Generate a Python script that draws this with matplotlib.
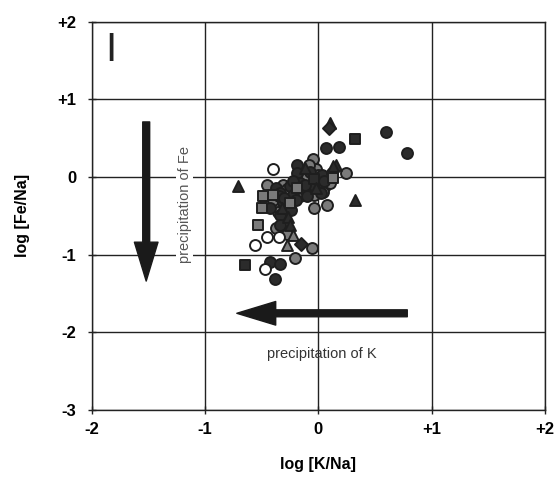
import matplotlib
matplotlib.use("Agg")
import matplotlib.pyplot as plt
from matplotlib.patches import FancyArrowPatch

plt.rcParams['font.family'] = ['Liberation Sans', 'DejaVu Sans']

# log [K/Na], log [Fe/Na] per sample group
dark_circ_x = [0.60, 0.78, 0.065, 0.18, -0.19, -0.43, -0.34, -0.38,
               -0.19, -0.07, 0.03, -0.16, 0.02, -0.13, -0.25, -0.37, -0.46,
               -0.34, -0.22, -0.10, 0.02, -0.43, -0.31, -0.34, -0.34,
               -0.22, -0.05, 0.05, -0.35, -0.20, -0.30, -0.24, -0.12, 0.12]
dark_circ_y = [0.58, 0.31, 0.37, 0.39, 0.16, -1.10, -1.12, -1.31,
               0.05, 0.07, 0.03, -0.08, -0.08, -0.16, -0.12, -0.14, -0.23,
               -0.21, -0.23, -0.24, -0.21, -0.40, -0.32, -0.49, -0.62,
               -0.05, -0.10, -0.05, -0.25, -0.30, -0.27, -0.42, -0.10, 0.05]

gray_circ_x = [-0.05, 0.24, 0.08, -0.04, -0.06, -0.21,
               -0.13, -0.02, 0.07, -0.10, 0.06, -0.07, -0.31, -0.43, -0.47,
               -0.28, -0.16, -0.04, 0.04, -0.37, -0.29, -0.31, -0.37, -0.28,
               -0.28, -0.10, 0.00, -0.40, -0.15, -0.45, -0.36, 0.10, -0.08]
gray_circ_y = [0.23, 0.05, -0.36, -0.40, -0.91, -1.04,
               0.03, 0.10, -0.01, -0.06, -0.12, -0.16, -0.10, -0.16, -0.30,
               -0.21, -0.25, -0.23, -0.19, -0.32, -0.45, -0.58, -0.66, -0.73,
               -0.15, 0.00, 0.02, -0.30, -0.18, -0.10, -0.45, -0.08, 0.15]

open_circ_x = [-0.40, -0.45, -0.56, -0.35, -0.47]
open_circ_y = [0.10, -0.77, -0.88, -0.77, -1.19]

dark_sq_x = [0.32, -0.65, -0.04]
dark_sq_y = [0.49, -1.13, -0.03]

gray_sq_x = [0.13, -0.49, -0.50, -0.53, -0.19, -0.40, -0.25]
gray_sq_y = [-0.01, -0.25, -0.40, -0.62, -0.14, -0.23, -0.34]

dark_tri_x = [0.10, 0.16, -0.12, -0.71, 0.32, 0.13, -0.02, -0.32, -0.27, -0.25]
dark_tri_y = [0.70, 0.16, 0.12, -0.11, -0.30, 0.14, -0.14, -0.40, -0.51, -0.62]

gray_tri_x = [-0.28, -0.22]
gray_tri_y = [-0.88, -0.75]

diam_x = [0.09, -0.15]
diam_y = [0.63, -0.86]

xticks = [-2, -1, 0, 1, 2]
xticklabels = ['-2', '-1', '0', '+1', '+2']
yticks = [-3, -2, -1, 0, 1, 2]
yticklabels = ['-3', '-2', '-1', '0', '+1', '+2']

fig = plt.figure(figsize=(5.6, 4.84), dpi=100)
ax = fig.add_axes([0.164, 0.153, 0.809, 0.802])

dark = '#2b2b2b'
gray = '#7a7a7a'
edge = '#1e1e1e'
ms = 62
kw = dict(s=ms, edgecolors=edge, linewidths=1.4, zorder=3)

ax.scatter(gray_circ_x, gray_circ_y, marker='o', facecolors=gray, **kw)
ax.scatter(dark_circ_x, dark_circ_y, marker='o', facecolors=dark, **kw)
ax.scatter(open_circ_x, open_circ_y, marker='o', facecolors='white', **kw)
ax.scatter(gray_sq_x, gray_sq_y, marker='s', facecolors=gray, **kw)
ax.scatter(dark_sq_x, dark_sq_y, marker='s', facecolors=dark, **kw)
ax.scatter(dark_tri_x, dark_tri_y, marker='^', facecolors=dark, **kw)
ax.scatter(gray_tri_x, gray_tri_y, marker='^', facecolors=gray, **kw)
ax.scatter(diam_x, diam_y, marker='D', s=44, facecolors=dark, edgecolors=edge,
           linewidths=1.4, zorder=3)

ax.set_xlim(-2, 2)
ax.set_ylim(-3, 2)
ax.set_xticks(xticks)
ax.set_xticklabels(xticklabels)
ax.set_yticks(yticks)
ax.set_yticklabels(yticklabels)
ax.tick_params(direction='inout', length=6, width=1, labelsize=12, color='#222')
ax.tick_params(axis='x', pad=6)
ax.tick_params(axis='y', pad=8)
for lbl in ax.get_xticklabels() + ax.get_yticklabels():
    lbl.set_fontweight('bold')
ax.grid(True, color='#222', linewidth=1.0)
ax.set_axisbelow(True)
for sp in ax.spines.values():
    sp.set_color('#222')
    sp.set_linewidth(1.0)

ax.set_xlabel('log [K/Na]', fontsize=11.5, fontweight='bold', labelpad=14)
ax.set_ylabel('log [Fe/Na]', fontsize=11.5, fontweight='bold', labelpad=20)

style = 'simple,head_length=2.8,head_width=1.7,tail_width=0.5'
ax.add_patch(FancyArrowPatch((-1.52, 0.71), (-1.52, -1.34), arrowstyle=style,
                             mutation_scale=10, color='#1a1a1a', shrinkA=0, shrinkB=0, zorder=4))
ax.add_patch(FancyArrowPatch((0.785, -1.755), (-0.72, -1.755), arrowstyle=style,
                             mutation_scale=10, color='#1a1a1a', shrinkA=0, shrinkB=0, zorder=4))

ax.text(-1.18, -0.36, 'precipitation of Fe', rotation=90, fontsize=10.5, color='#555',
        ha='center', va='center', zorder=2,
        bbox=dict(facecolor='white', edgecolor='none', pad=1))
ax.text(0.03, -2.28, 'precipitation of K', fontsize=10.5, color='#333',
        ha='center', va='center', zorder=2)
ax.text(-1.83, 1.64, 'I', fontsize=29, color='#222', ha='center', va='center')

fig.savefig('out.png', dpi=100)
